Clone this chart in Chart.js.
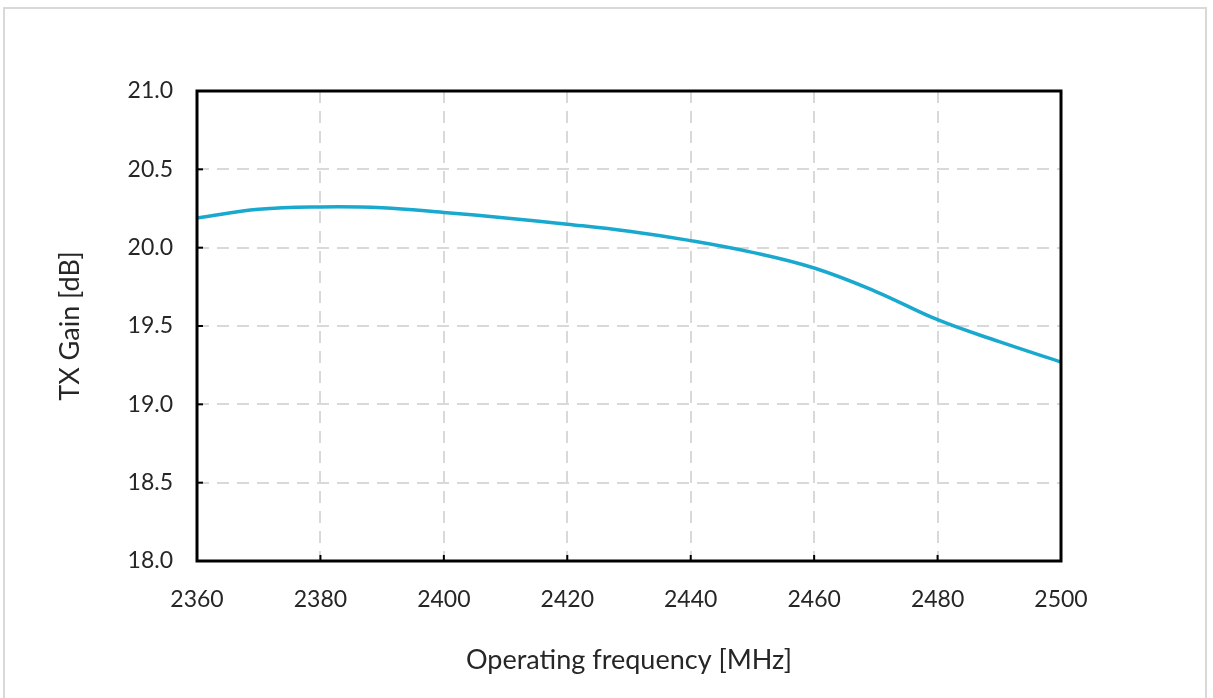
<!DOCTYPE html>
<html>
<head>
<meta charset="utf-8">
<script src="https://cdn.jsdelivr.net/npm/chart.js@4"></script>
<style>
  html, body { margin: 0; padding: 0; background: #fff; overflow: hidden; }
  #frame { position: absolute; left: 3px; top: 7px; width: 1204px; height: 700px; border: 2px solid #d9d9d9; box-sizing: border-box; }
  #wrap { position: absolute; left: 0; top: 0; width: 1213px; height: 698px; }
</style>
</head>
<body>
<div id="frame"></div>
<div id="wrap"><canvas id="gainChart" width="1213" height="698"></canvas></div>
<script>
// frequency [MHz] and TX gain [dB]
const freqs = [2360, 2370, 2380, 2390, 2400, 2410, 2420, 2430, 2440, 2450, 2460, 2470, 2480, 2490, 2500];
const gain = [20.19, 20.245, 20.26, 20.255, 20.225, 20.19, 20.15, 20.105, 20.045, 19.97, 19.87, 19.72, 19.54, 19.40, 19.27];
const xTicks = [2360, 2380, 2400, 2420, 2440, 2460, 2480, 2500];
const yTicks = [18.0, 18.5, 19.0, 19.5, 20.0, 20.5, 21.0];

const FONT = "Lato, 'Open Sans', sans-serif";

// black plot frame plus the short inside tick marks
const frameAndTicks = {
    id: 'frameAndTicks',
    afterDraw(chart) {
        const { ctx, chartArea: a, scales } = chart;
        ctx.save();
        ctx.strokeStyle = '#000';
        ctx.lineWidth = 2;
        xTicks.forEach(v => {
            const px = scales.x.getPixelForValue(v);
            ctx.beginPath(); ctx.moveTo(px, a.bottom); ctx.lineTo(px, a.bottom - 6); ctx.stroke();
        });
        yTicks.forEach(v => {
            const py = scales.y.getPixelForValue(v);
            ctx.beginPath(); ctx.moveTo(a.left, py); ctx.lineTo(a.left + 6, py); ctx.stroke();
        });
        ctx.lineWidth = 3;
        ctx.strokeRect(a.left, a.top, a.right - a.left, a.bottom - a.top);
        ctx.restore();
    }
};

new Chart(document.getElementById('gainChart'), {
    type: 'line',
    data: {
        datasets: [{
            data: freqs.map((f, i) => ({ x: f, y: gain[i] })),
            borderColor: '#19a9cf',
            borderWidth: 3.5,
            pointRadius: 0,
            tension: 0.4,
            fill: false
        }]
    },
    options: {
        responsive: false,
        animation: false,
        devicePixelRatio: 1,
        layout: { padding: { top: 91, right: 152, left: 0, bottom: 0 } },
        plugins: { legend: { display: false }, tooltip: { enabled: false } },
        scales: {
            x: {
                type: 'linear',
                min: 2360, max: 2500,
                afterBuildTicks: s => { s.ticks = xTicks.map(v => ({ value: v })); },
                afterFit: s => { s.height = 137; },
                grid: { color: '#d9d9d9', lineWidth: 2, drawTicks: false },
                border: { display: false, dash: [12, 8] },
                ticks: { color: '#262626', font: { family: FONT, size: 23 }, padding: 25, callback: v => String(v) },
                title: {
                    display: true, text: 'Operating frequency [MHz]',
                    color: '#262626', font: { family: FONT, size: 27 },
                    padding: { top: 10, bottom: 22 }
                }
            },
            y: {
                min: 18, max: 21,
                afterBuildTicks: s => { s.ticks = yTicks.map(v => ({ value: v })); },
                afterFit: s => { s.width = 197; },
                grid: { color: '#d9d9d9', lineWidth: 2, drawTicks: false },
                border: { display: false, dash: [12, 8] },
                ticks: {
                    color: '#262626', font: { family: FONT, size: 23 }, padding: 24,
                    callback: v => v.toFixed(1)
                },
                title: {
                    display: true, text: 'TX Gain [dB]',
                    color: '#262626', font: { family: FONT, size: 27 },
                    padding: { top: 54, bottom: 0 }
                }
            }
        }
    },
    plugins: [frameAndTicks]
});
</script>
</body>
</html>
